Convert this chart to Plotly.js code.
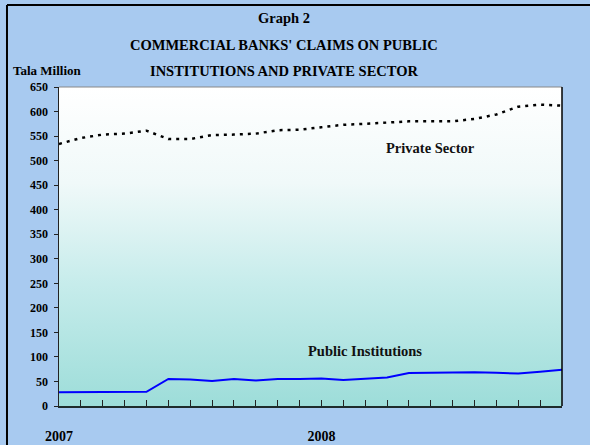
<!DOCTYPE html>
<html>
<head>
<meta charset="utf-8">
<script src="https://cdn.plot.ly/plotly-3.0.1.min.js"></script>
<style>html,body{margin:0;padding:0;background:#A8CAF0;}#chart{width:590px;height:445px;}</style>
</head>
<body>
<div id="chart"></div>
<script>
const months = ['Jan-07','Feb-07','Mar-07','Apr-07','May-07','Jun-07','Jul-07','Aug-07','Sep-07','Oct-07','Nov-07','Dec-07',
                'Jan-08','Feb-08','Mar-08','Apr-08','May-08','Jun-08','Jul-08','Aug-08','Sep-08','Oct-08','Nov-08','Dec-08'];
const privateSector = [534,546,553,555,561,544,544,552,553,555,562,563,568,573,575,577,580,580,580,585,594,610,614,612];
const publicInstitutions = [28,28,29,29,29,55,54,51,55,52,55,55,56,53,55,58,67,68,68,69,68,66,70,74];
const tickLabels = months.map(m => m.startsWith('Jan') ? '20' + m.slice(4) : '');
const titleLines = ['Graph 2', 'COMMERCIAL BANKS\' CLAIMS ON PUBLIC', 'INSTITUTIONS AND PRIVATE SECTOR'];

const serif = 'Liberation Serif, Times New Roman, serif';

const grad = '<svg xmlns="http://www.w3.org/2000/svg" width="100" height="100" preserveAspectRatio="none">' +
  '<defs><linearGradient id="g" x1="0" y1="0" x2="0" y2="1">' +
  '<stop offset="0" stop-color="#FFFFFF"/><stop offset="0.3" stop-color="#F0F9F9"/>' +
  '<stop offset="0.62" stop-color="#C6ECEB"/><stop offset="1" stop-color="#9DDDD9"/>' +
  '</linearGradient></defs><rect width="100" height="100" fill="url(#g)"/></svg>';
const gradURI = 'data:image/svg+xml;charset=utf-8,' + encodeURIComponent(grad);

const traces = [
  {x: months, y: privateSector, type: 'scatter', mode: 'lines', name: 'Private Sector',
   line: {color: '#000000', width: 2.5, dash: '3px,5px'}},
  {x: months, y: publicInstitutions, type: 'scatter', mode: 'lines', name: 'Public Institutions',
   line: {color: '#0000FF', width: 2}}
];

const titleY = [1.216, 1.132, 1.050];
const titleAnns = titleLines.map((t, i) => ({
  text: '<b>' + t + '</b>', xref: 'paper', yref: 'paper', x: 0.447, y: titleY[i],
  xanchor: 'center', yanchor: 'middle', showarrow: false,
  font: {family: serif, size: 14.5, color: '#000'}
}));

const layout = {
  width: 590, height: 445,
  margin: {l: 59, r: 28, t: 87, b: 39, pad: 0},
  paper_bgcolor: '#A8CAF0',
  plot_bgcolor: 'rgba(0,0,0,0)',
  showlegend: false,
  font: {family: serif, color: '#000'},
  xaxis: {type: 'category', range: [0, 23], tickmode: 'array', tickvals: months, ticktext: tickLabels,
          ticks: 'inside', ticklen: 6, tickwidth: 1, tickcolor: '#222', showline: true, linecolor: '#1e2b2b',
          linewidth: 2, showgrid: false, zeroline: false, ticklabelstandoff: 16,
          tickfont: {family: serif, size: 14, color: '#000', weight: 'bold'}},
  yaxis: {range: [0, 650], dtick: 50, ticks: 'outside', ticklen: 4, tickwidth: 1, tickcolor: '#222',
          showline: true, linecolor: '#222', linewidth: 1.5, showgrid: false, zeroline: false,
          ticklabelstandoff: 3,
          tickfont: {family: serif, size: 12, color: '#000', weight: 'bold'}},
  images: [{source: gradURI, xref: 'paper', yref: 'paper', x: 0, y: 1, sizex: 1, sizey: 1,
            sizing: 'stretch', xanchor: 'left', yanchor: 'top', layer: 'below'}],
  shapes: [
    {type: 'line', xref: 'paper', yref: 'paper', x0: 0, x1: 1, y0: 1, y1: 1, line: {color: '#888', width: 1}},
    {type: 'line', xref: 'paper', yref: 'paper', x0: 1, x1: 1, y0: 0, y1: 1, line: {color: '#000', width: 1.5}},
    {type: 'line', xref: 'paper', yref: 'paper', x0: -0.1034, x1: -0.1034, y0: -0.2, y1: 1.257, line: {color: '#000', width: 2}},
    {type: 'line', xref: 'paper', yref: 'paper', x0: -0.1034, x1: 1.2, y0: 1.257, y1: 1.257, line: {color: '#000', width: 2}}
  ],
  annotations: titleAnns.concat([
    {text: '<b>Tala Million</b>', xref: 'paper', yref: 'paper', x: -0.0954, y: 1.053, xanchor: 'left', yanchor: 'middle',
     showarrow: false, font: {family: serif, size: 13, color: '#000'}},
    {text: '<b>Private Sector</b>', xref: 'x', yref: 'y', x: months[17], y: 526, xanchor: 'center', yanchor: 'middle',
     showarrow: false, font: {family: serif, size: 14.5, color: '#111'}},
    {text: '<b>Public Institutions</b>', xref: 'x', yref: 'y', x: months[14], y: 112, xanchor: 'center', yanchor: 'middle',
     showarrow: false, font: {family: serif, size: 14.5, color: '#111'}}
  ])
};

Plotly.newPlot('chart', traces, layout, {displayModeBar: false, staticPlot: true});
</script>
</body>
</html>
